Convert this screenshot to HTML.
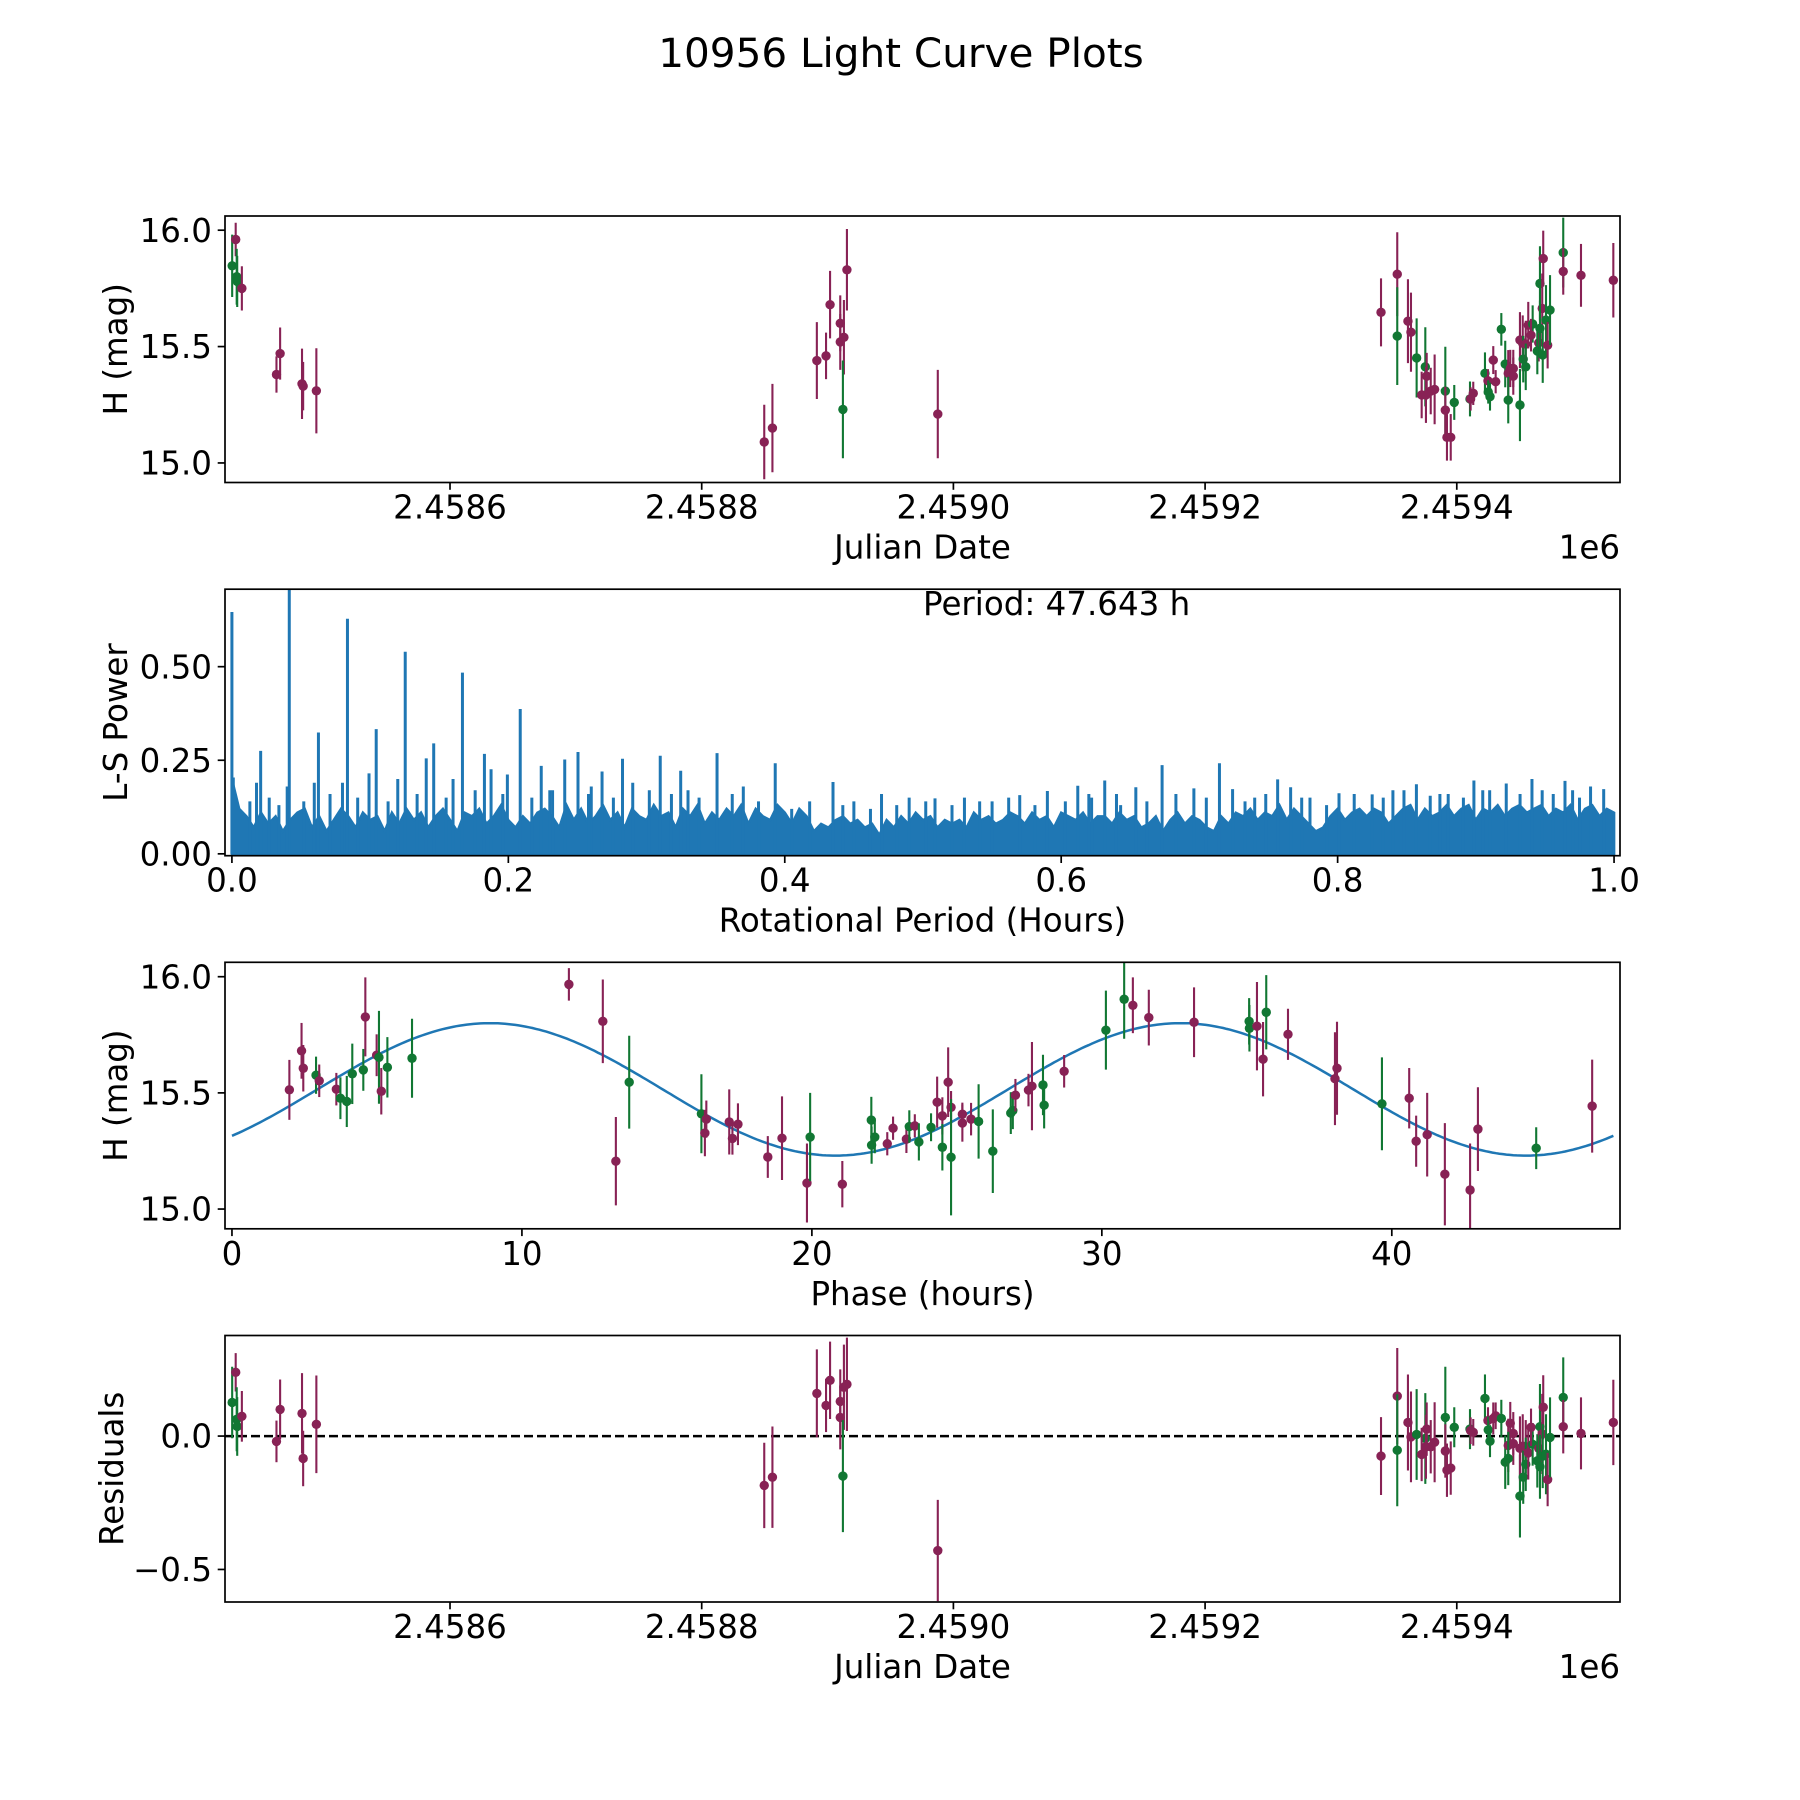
<!DOCTYPE html>
<html><head><meta charset="utf-8"><title>10956 Light Curve Plots</title>
<style>
html,body{margin:0;padding:0;background:#fff;}
svg{display:block;font-family:"DejaVu Sans","Liberation Sans",sans-serif;}
</style></head>
<body>
<svg id="fig" width="1800" height="1800" viewBox="0 0 1800 1800" xmlns="http://www.w3.org/2000/svg">
<rect x="0" y="0" width="1800" height="1800" fill="#fff"/>
<text x="901" y="67" font-size="40.5" text-anchor="middle">10956 Light Curve Plots</text>
</svg>
<script>
// ---------- Data: light curve (Julian Date) ----------
const jdVals = [2458426.9,2458429.7,2458430.5,2458430.9,2458434.6,2458462.1,2458465.0,2458482.4,2458483.3,2458493.8,
2458849.7,2458856.2,2458891.5,2458898.8,2458902.0,2458910.1,2458910.1,2458913.0,2458915.4,2458912.2,2458987.6,
2459339.8,2459352.7,2459352.7,2459361.2,2459363.6,2459368.1,2459375.0,2459376.1,2459372.1,2459375.5,2459379.3,2459382.4,2459390.9,2459390.9,2459392.2,2459395.2,2459398.0,2459410.5,2459411.0,2459413.1,2459422.4,2459424.8,2459426.4,2459425.0,2459430.9,2459429.0,2459435.4,2459438.5,2459440.9,2459442.5,2459444.9,2459444.9,2459440.9,2459450.2,2459450.2,2459452.4,2459452.8,2459454.8,2459454.8,2459456.8,2459460.3,2459459.0,2459465.1,2459464.0,2459466.1,2459468.7,2459467.9,2459468.3,2459466.1,2459470.9,2459472.2,2459474.1,2459484.6,2459484.6,2459498.7,2459524.4];
const magVals = [15.847,15.96,15.80,15.78,15.75,15.38,15.47,15.34,15.33,15.31,
15.09,15.15,15.44,15.46,15.68,15.52,15.60,15.54,15.83,15.23,15.21,
15.647,15.811,15.545,15.609,15.562,15.451,15.413,15.373,15.292,15.292,15.309,15.316,15.309,15.227,15.110,15.110,15.260,15.275,15.275,15.299,15.385,15.353,15.285,15.305,15.349,15.442,15.574,15.425,15.385,15.406,15.406,15.373,15.270,15.249,15.528,15.514,15.446,15.511,15.413,15.592,15.597,15.549,15.516,15.481,15.771,15.878,15.664,15.464,15.578,15.614,15.506,15.657,15.904,15.823,15.806,15.785];
const errVals = [0.134,0.072,0.12,0.11,0.095,0.078,0.112,0.151,0.104,0.183,
0.16,0.19,0.165,0.10,0.145,0.12,0.12,0.16,0.175,0.21,0.19,
0.146,0.18,0.21,0.18,0.17,0.17,0.17,0.10,0.10,0.12,0.10,0.15,0.19,0.10,0.10,0.10,0.075,0.075,0.05,0.05,0.09,0.05,0.06,0.05,0.05,0.06,0.07,0.1,0.1,0.08,0.08,0.08,0.1,0.155,0.12,0.12,0.1,0.1,0.1,0.1,0.08,0.07,0.08,0.1,0.16,0.12,0.15,0.12,0.12,0.15,0.1,0.15,0.15,0.1,0.135,0.16];
const bandVals = ["g","m","g","g","m","m","m","m","m","m",
"m","m","m","m","m","m","m","m","m","g","m",
"m","m","g","m","m","g","g","m","m","m","m","m","g","m","m","m","g","g","m","m","g","m","g","g","m","m","g","g","m","m","m","m","g","g","m","m","g","m","g","m","g","m","m","g","g","m","m","g","g","g","m","g","g","m","m","m"];
const resVals = [0.126,0.239,0.063,0.036,0.074,-0.020,0.100,0.085,-0.084,0.044,
-0.185,-0.154,0.160,0.115,0.209,0.130,0.070,0.183,0.194,-0.150,-0.429,
-0.075,0.150,-0.053,0.051,-0.003,0.006,-0.009,0.026,-0.069,-0.040,-0.040,-0.023,0.070,-0.056,-0.128,-0.120,0.033,0.026,0.020,0.014,0.141,0.058,-0.019,0.023,0.076,0.066,0.066,-0.098,-0.035,0.048,0.010,-0.028,-0.084,-0.225,-0.046,-0.038,-0.154,-0.040,-0.106,-0.063,-0.031,0.033,-0.046,-0.093,0.035,0.108,0.008,-0.075,-0.115,-0.068,-0.163,-0.005,0.145,0.035,0.010,0.051];

// ---------- Data: phase-folded ----------
const phaseVals = [1.98,2.40,2.46,2.90,3.01,3.60,3.74,3.96,4.15,4.53,4.60,4.99,5.07,5.15,5.36,6.21,11.62,12.79,13.70,13.24,16.19,16.36,16.31,17.15,17.26,17.45,18.48,18.97,19.83,19.94,21.05,22.05,22.06,22.17,22.60,22.80,23.26,23.36,23.55,
23.69,24.11,24.32,24.50,24.50,24.70,24.80,24.80,25.19,25.19,25.49,25.75,26.24,26.86,26.93,27.02,27.47,27.59,27.97,28.01,28.70,30.14,30.77,31.07,31.62,33.18,35.08,35.09,35.35,35.56,35.67,36.42,38.04,38.11,39.66,40.60,40.84,41.22,41.83,42.70,42.97,44.98,46.91];
const phaseMag = [15.513,15.681,15.606,15.576,15.552,15.516,15.477,15.463,15.582,15.599,15.827,15.662,15.653,15.507,15.610,15.649,15.967,15.808,15.546,15.206,15.410,15.387,15.327,15.375,15.304,15.365,15.224,15.305,15.112,15.310,15.107,15.383,15.275,15.310,15.281,15.348,15.301,15.355,15.358,
15.289,15.352,15.460,15.401,15.266,15.546,15.438,15.223,15.408,15.370,15.387,15.377,15.249,15.413,15.424,15.490,15.512,15.529,15.534,15.447,15.593,15.770,15.903,15.877,15.824,15.804,15.808,15.778,15.787,15.645,15.847,15.752,15.561,15.606,15.453,15.477,15.292,15.320,15.150,15.082,15.344,15.262,15.443];
const phaseErr = [0.129,0.12,0.1,0.08,0.07,0.07,0.09,0.11,0.13,0.09,0.17,0.09,0.2,0.1,0.13,0.17,0.07,0.18,0.2,0.19,0.17,0.08,0.1,0.14,0.07,0.09,0.09,0.18,0.17,0.19,0.1,0.1,0.08,0.07,0.05,0.05,0.06,0.07,0.05,
0.08,0.06,0.11,0.08,0.1,0.15,0.07,0.25,0.05,0.08,0.07,0.16,0.18,0.09,0.08,0.07,0.07,0.19,0.13,0.1,0.07,0.17,0.17,0.12,0.12,0.15,0.1,0.1,0.19,0.16,0.16,0.11,0.2,0.2,0.2,0.13,0.11,0.18,0.22,0.2,0.18,0.09,0.2];
const phaseBand = ["m","m","m","g","m","m","g","g","g","g","m","m","g","m","g","g","m","m","g","m","g","m","m","m","m","m","m","m","m","g","m","g","g","g","m","m","m","g","m",
"g","g","m","m","g","m","m","g","m","m","m","g","g","g","g","m","m","m","g","g","m","g","g","m","m","m","g","g","m","m","g","m","m","m","g","m","m","m","m","m","m","g","m"];
// fitted sinusoid parameters: [mean, amplitude, period (h), zero-phase (h)]
const fitParams = [15.515, 0.285, 23.82, 2.945];

// ---------- Data: Lomb-Scargle periodogram ----------
// noise envelope sampled evenly from period 0 to 1 h
const lsNoiseTop = [0.20,0.12,0.10,0.07,0.11,0.08,0.10,0.06,0.09,0.11,0.12,0.07,0.10,0.06,0.09,0.12,0.10,0.07,0.11,0.09,
0.10,0.06,0.11,0.08,0.12,0.09,0.11,0.07,0.10,0.12,0.09,0.06,0.11,0.10,0.12,0.08,0.10,0.13,0.09,0.07,
0.10,0.08,0.11,0.12,0.10,0.07,0.13,0.09,0.12,0.08,0.10,0.13,0.09,0.11,0.07,0.12,0.10,0.09,0.13,0.10,
0.11,0.07,0.12,0.10,0.13,0.08,0.11,0.09,0.12,0.10,0.13,0.08,0.12,0.10,0.09,0.13,0.11,0.08,0.12,0.10,
0.06,0.08,0.07,0.09,0.10,0.08,0.09,0.07,0.08,0.05,0.09,0.07,0.10,0.08,0.11,0.09,0.10,0.07,0.09,0.08,
0.09,0.07,0.11,0.09,0.10,0.08,0.09,0.11,0.10,0.08,0.11,0.09,0.10,0.07,0.11,0.10,0.09,0.11,0.08,0.10,
0.10,0.08,0.11,0.09,0.10,0.07,0.08,0.10,0.06,0.09,0.11,0.08,0.10,0.09,0.07,0.06,0.10,0.08,0.11,0.10,
0.12,0.09,0.11,0.10,0.13,0.09,0.12,0.10,0.08,0.06,0.07,0.10,0.12,0.09,0.11,0.12,0.10,0.12,0.11,0.08,
0.10,0.12,0.13,0.09,0.12,0.10,0.11,0.13,0.10,0.12,0.13,0.09,0.12,0.11,0.13,0.10,0.12,0.13,0.11,0.12,
0.13,0.10,0.12,0.11,0.13,0.09,0.12,0.13,0.10,0.12,0.11];
const lsPeakX = [0.000,0.001,0.0415,0.0626,0.0836,0.1044,0.1254,0.146,0.1668,0.2086,0.1406,0.0208,0.1827,0.1875,0.1993,0.2238,0.2408,0.2504,0.2678,0.2826,0.3099,0.3247,0.351,0.3931,0.4349,0.0992,0.0178,0.0596,
0.673,0.7145,0.6315,0.612,0.654,0.7566,0.857,0.8986,0.9406,0.9645,0.922,0.9925,0.590,0.5087,0.801,0.825,0.867,0.983,0.570,0.696,0.724,0.766,0.53,0.55,0.47,0.49,0.45,0.37,0.33,0.29,0.26,0.23,0.16,0.12,0.08,0.04,0.91,0.88,0.84,0.78,0.74,0.64,0.62,0.97,
0.013,0.027,0.034,0.052,0.071,0.091,0.113,0.134,0.155,0.176,0.196,0.217,0.232,0.258,0.276,0.302,0.318,0.338,0.362,0.381,0.405,0.418,0.442,0.462,0.481,0.502,0.521,0.541,0.562,0.581,0.603,0.622,0.643,0.662,0.683,0.705,0.733,0.748,0.774,0.792,0.812,0.833,0.848,0.874,0.891,0.905,0.932,0.948,0.956,0.975];
const lsPeakH = [0.646,0.204,0.75,0.324,0.628,0.333,0.54,0.295,0.484,0.387,0.255,0.275,0.267,0.226,0.212,0.235,0.252,0.272,0.22,0.254,0.262,0.222,0.269,0.242,0.192,0.215,0.19,0.19,
0.237,0.242,0.196,0.182,0.178,0.199,0.186,0.196,0.2,0.195,0.188,0.173,0.168,0.148,0.162,0.159,0.155,0.18,0.157,0.175,0.173,0.178,0.15,0.14,0.16,0.15,0.14,0.18,0.17,0.19,0.18,0.17,0.2,0.2,0.19,0.18,0.17,0.16,0.17,0.15,0.15,0.16,0.16,0.17,
0.14,0.15,0.13,0.14,0.16,0.15,0.14,0.16,0.15,0.17,0.16,0.15,0.17,0.16,0.15,0.17,0.16,0.15,0.16,0.14,0.12,0.14,0.13,0.12,0.13,0.14,0.13,0.14,0.15,0.13,0.14,0.15,0.13,0.14,0.16,0.15,0.14,0.16,0.15,0.13,0.16,0.15,0.17,0.16,0.15,0.17,0.16,0.17,0.16,0.15];

// ---------- Tick data ----------
const jdTicks = [2458600,2458800,2459000,2459200,2459400];
const jdTickLabels = ["2.4586","2.4588","2.4590","2.4592","2.4594"];
const magTicks = [15.0,15.5,16.0];
const magTickLabels = ["15.0","15.5","16.0"];
const lsXTicks = [0,0.2,0.4,0.6,0.8,1.0];
const lsXTickLabels = ["0.0","0.2","0.4","0.6","0.8","1.0"];
const lsYTicks = [0,0.25,0.5];
const lsYTickLabels = ["0.00","0.25","0.50"];
const phTicks = [0,10,20,30,40];
const phTickLabels = ["0","10","20","30","40"];
const resTicks = [-0.5,0.0];
const resTickLabels = ["\u22120.5","0.0"];

// ---------- Rendering ----------
const NS = "http://www.w3.org/2000/svg";
const svg = document.getElementById("fig");
const COL = {m:"#882255", g:"#117733"};
const L = 225, R = 1620;
const FS = 32.5;
function el(tag, attrs, parent) {
  const e = document.createElementNS(NS, tag);
  for (const k in attrs) e.setAttribute(k, attrs[k]);
  (parent || svg).appendChild(e);
  return e;
}
function lin(d0, d1, r0, r1) { return v => r0 + (v - d0) * (r1 - r0) / (d1 - d0); }

function makeAxes(id, top, bot, xd, yd) {
  const g = el("g", {});
  
  
  const cp = el("clipPath", {id: "clip-" + id}, g);
  el("rect", {x: L, y: top, width: R - L, height: bot - top}, cp);
  const plot = el("g", {"clip-path": "url(#clip-" + id + ")"}, g);
  
  
  return {g, plot, top, bot, x: lin(xd[0], xd[1], L, R), y: lin(yd[0], yd[1], bot, top)};
}
function frame(ax) {
  const f = el("rect", {x: L, y: ax.top, width: R - L, height: ax.bot - ax.top, fill: "none", stroke: "#000", "stroke-width": 1.7}, ax.g);
  
  
}
function xTicks(ax, vals, labels, name) {
  vals.forEach((v, i) => {
    const X = ax.x(v);
    el("line", {x1: X, x2: X, y1: ax.bot, y2: ax.bot + 7.3, stroke: "#000", "stroke-width": 1.7}, ax.g);
    const t = el("text", {x: X, y: ax.bot + 36, "font-size": FS, "text-anchor": "middle"}, ax.g);
    t.textContent = labels[i];
    
    
  });
}
function yTicks(ax, vals, labels, name) {
  vals.forEach((v, i) => {
    const Y = ax.y(v);
    el("line", {x1: L - 7.3, x2: L, y1: Y, y2: Y, stroke: "#000", "stroke-width": 1.7}, ax.g);
    const t = el("text", {x: 212, y: Y + 11.6, "font-size": FS, "text-anchor": "end"}, ax.g);
    t.textContent = labels[i];
    
    
  });
}
function xLabel(ax, txt, name) {
  const t = el("text", {x: 922.5, y: ax.bot + 76, "font-size": FS, "text-anchor": "middle"}, ax.g);
  t.textContent = txt;
  
  
}
function yLabel(ax, txt, name, bx) {
  const cy = (ax.top + ax.bot) / 2;
  const t = el("text", {x: bx, y: cy, "font-size": FS, "text-anchor": "middle", transform: "rotate(-90 " + bx + " " + cy + ")"}, ax.g);
  t.textContent = txt;
  
  
}
function offsetText(ax) {
  const t = el("text", {x: R, y: ax.bot + 76, "font-size": FS, "text-anchor": "end"}, ax.g);
  t.textContent = "1e6";
  
  
}
function errPoint(ax, xv, yv, ev, band) {
  const X = ax.x(xv), Y = ax.y(yv);
  const gp = el("g", {}, ax.plot);
  
  
  el("line", {x1: X, x2: X, y1: ax.y(yv - ev), y2: ax.y(yv + ev), stroke: COL[band], "stroke-width": 2.1}, gp);
  el("circle", {cx: X, cy: Y, r: 4.7, fill: COL[band]}, gp);
}

// Axes 1: light curve
const ax1 = makeAxes("light-curve", 216, 482.5, [2458421.2, 2459529.7], [14.916, 16.061]);
jdVals.forEach((j, i) => errPoint(ax1, j, magVals[i], errVals[i], bandVals[i]));
frame(ax1);
xTicks(ax1, jdTicks, jdTickLabels, "jd");
yTicks(ax1, magTicks, magTickLabels, "mag");
xLabel(ax1, "Julian Date", "x-axis-title-julian-date");
yLabel(ax1, "H (mag)", "y-axis-title-h-mag", 127);
offsetText(ax1);

// Axes 2: periodogram
const ax2 = makeAxes("periodogram", 589.2, 855.7, [-0.005, 1.0043], [-0.005, 0.707]);
{
  const n = lsNoiseTop.length;
  const px = i => ax2.x(i / (n - 1));
  let d = "M" + px(0).toFixed(1) + "," + ax2.y(0).toFixed(1);
  lsNoiseTop.forEach((v, i) => { d += " L" + px(i).toFixed(1) + "," + ax2.y(v).toFixed(1); });
  d += " L" + px(n - 1).toFixed(1) + "," + ax2.y(0).toFixed(1) + " Z";
  const area = el("path", {d: d, fill: "#1f77b4", stroke: "#1f77b4", "stroke-width": 2.5, "stroke-linejoin": "miter"}, ax2.plot);
  
  
  lsPeakX.forEach((p, i) => {
    const s = el("line", {x1: ax2.x(p), x2: ax2.x(p), y1: ax2.y(0), y2: ax2.y(lsPeakH[i]), stroke: "#1f77b4", "stroke-width": 3}, ax2.plot);
    
    
  });
}
frame(ax2);
xTicks(ax2, lsXTicks, lsXTickLabels, "period");
yTicks(ax2, lsYTicks, lsYTickLabels, "power");
xLabel(ax2, "Rotational Period (Hours)", "x-axis-title-rotational-period");
yLabel(ax2, "L-S Power", "y-axis-title-ls-power", 127);
{
  const t = el("text", {x: 923, y: 615, "font-size": FS}, ax2.g);
  t.textContent = "Period: 47.643 h";
  
  
}

// Axes 3: phase-folded
const ax3 = makeAxes("phase", 962.3, 1228.8, [-0.24, 47.87], [14.915, 16.062]);
{
  let d = "";
  const P = 47.643;
  for (let k = 0; k <= 400; k++) {
    const t = P * k / 400;
    const v = fitParams[0] + fitParams[1] * Math.sin(2 * Math.PI * (t - fitParams[3]) / fitParams[2]);
    d += (k ? " L" : "M") + ax3.x(t).toFixed(1) + "," + ax3.y(v).toFixed(1);
  }
  const c = el("path", {d: d, fill: "none", stroke: "#1f77b4", "stroke-width": 2.5}, ax3.plot);
  
  
}
phaseVals.forEach((p, i) => errPoint(ax3, p, phaseMag[i], phaseErr[i], phaseBand[i]));
frame(ax3);
xTicks(ax3, phTicks, phTickLabels, "phase");
yTicks(ax3, magTicks, magTickLabels, "phase-mag");
xLabel(ax3, "Phase (hours)", "x-axis-title-phase");
yLabel(ax3, "H (mag)", "y-axis-title-phase-mag", 127);

// Axes 4: residuals
const ax4 = makeAxes("residuals", 1335.5, 1602, [2458421.2, 2459529.7], [-0.622, 0.377]);
{
  const z = el("line", {x1: L, x2: R, y1: ax4.y(0), y2: ax4.y(0), stroke: "#000", "stroke-width": 2.5, "stroke-dasharray": "9,4"}, ax4.plot);
  
  
}
jdVals.forEach((j, i) => errPoint(ax4, j, resVals[i], errVals[i], bandVals[i]));
frame(ax4);
xTicks(ax4, jdTicks, jdTickLabels, "res-jd");
yTicks(ax4, resTicks, resTickLabels, "residual");
xLabel(ax4, "Julian Date", "x-axis-title-residual-julian-date");
yLabel(ax4, "Residuals", "y-axis-title-residuals", 123);
offsetText(ax4);
</script>
</body></html>
